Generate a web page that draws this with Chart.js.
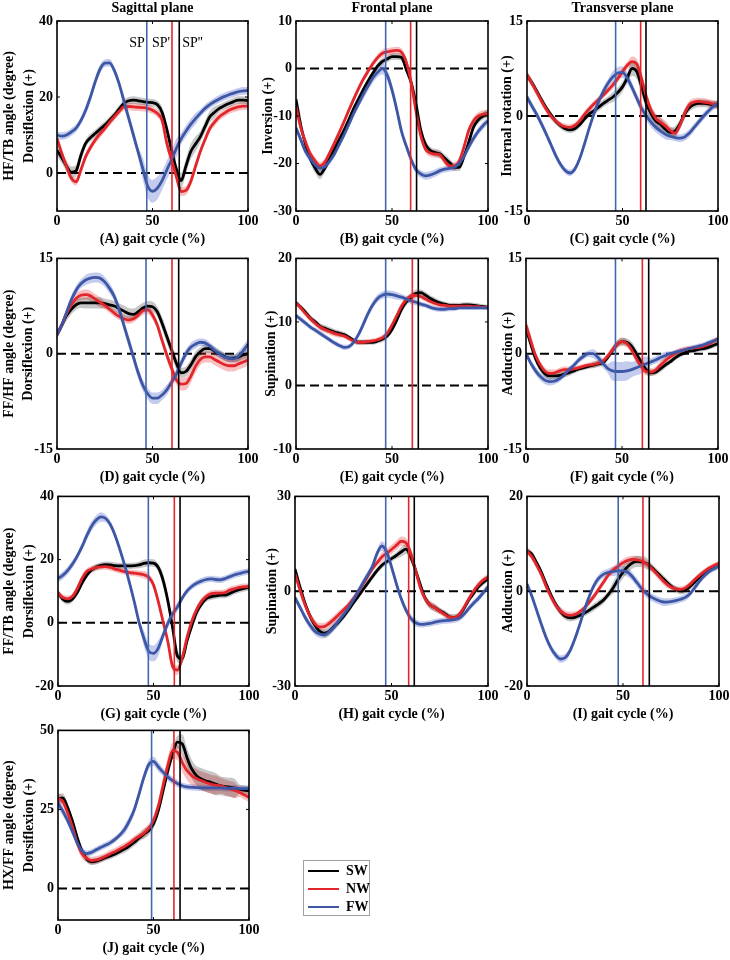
<!DOCTYPE html>
<html><head><meta charset="utf-8">
<script src="https://cdn.jsdelivr.net/npm/chart.js@4.4.0/dist/chart.umd.min.js"></script>
<style>
html,body{margin:0;padding:0;background:#fff;}
body{width:730px;height:960px;position:relative;overflow:hidden;}
canvas{position:absolute;}
#legendBox{position:absolute;left:303px;top:860px;width:65px;height:54px;border:1px solid #a0a0a0;}
</style></head><body>
<div id="legendBox"></div>
<script>
// ---------- categories (gait cycle %) ----------
const GAIT = [0,2.5,5,7.5,10,12.5,15,17.5,20,22.5,25,27.5,30,32.5,35,37.5,40,42.5,45,47.5,50,52.5,55,57.5,60,62.5,65,67.5,70,72.5,75,77.5,80,82.5,85,87.5,90,92.5,95,97.5,100];
const X_TICKS = [0,50,100];
const SERIES = ['SW','NW','FW'];
const SP_TEXT = ['SP', "SP'", "SP''"];

// ---------- (A) HF/TB sagittal ----------
const A_SW = [6,4,1.8,0.2,0.6,4.6,7.8,9.3,10.4,11.5,12.6,13.9,15.2,16.8,18.3,19,19.2,19,18.8,18.6,18.5,18,16,11.5,6,1,-2,1.8,5.6,7.6,9.5,12.2,14.8,16,17,17.7,18.3,18.8,19.2,19.2,19];
const A_NW = [9.1,5.2,1.7,-1.4,-2.3,0.8,4.3,6.7,8.7,10.3,11.7,13.3,14.8,16.2,17.4,17.5,17.4,17.3,17.2,17,16.5,15.7,13.9,7.8,3.4,-1,-4.9,-4.6,-2.3,1.7,5.6,8.8,11.7,13.4,14.8,15.7,16.5,17,17.4,17.6,17.6];
const A_FW = [10,9.7,10,10.8,11.8,13.8,16.5,20,24,27.3,28.9,29,27,23.5,19,14.5,10,5.5,1,-3.5,-4.8,-4,-2,0.8,3.5,6.5,9,11,12.8,14.3,15.7,17,18,18.8,19.5,20.1,20.6,21,21.4,21.6,21.7];
const A_SW_SD = [1.5,1.5,1,1,1,1,1.5,2,1.5,1,1];
const A_NW_SD = [1,1,1,1,1,1,1.2,1.2,1,1,1];
const A_FW_SD = [1,1,1.2,1,1.5,3,2.5,1.5,1,1,1];
const A_RANGE = [-10,40];
const A_YTICKS = [0,20,40];
const A_SP = [47,60.2,64];

// ---------- (B) HF/TB frontal ----------
const B_SW = [-6.5,-12,-16,-19,-21,-22.3,-21,-19,-17,-15,-13,-10.8,-8.5,-6.5,-4.5,-2.7,-1,0.5,1.5,2,2.5,2.5,2.3,-0.3,-3,-7.5,-13,-16,-17.3,-17.7,-18,-18.9,-19.8,-20.8,-20.8,-18.5,-15.5,-12.3,-10.8,-10,-9.4];
const B_NW = [-8,-12.5,-15.5,-18,-19.5,-20.5,-19.7,-17.8,-15.7,-13.5,-11.2,-8.8,-6.5,-4.3,-2.3,-0.6,1,2.3,3.2,3.5,3.7,3.8,3.4,1.3,-3,-9,-14.2,-17,-17.8,-18,-18.2,-19.5,-20.5,-20.5,-19.5,-16.5,-13,-11,-10,-9.6,-9.5];
const B_FW = [-12.5,-15,-17.5,-19,-20.3,-21,-20.7,-19.5,-18,-16,-14,-11.8,-9.5,-7.5,-5.5,-3.7,-2,-0.8,0,-1.4,-4.5,-8.7,-13.3,-16.4,-19.2,-21.3,-22.2,-22.6,-22.4,-22,-21.5,-21.2,-21,-20.8,-20,-18.5,-16.5,-14.7,-13.2,-12,-11];
const B_SW_SD = [0.8,1,0.8,0.8,0.7,0.7,0.7,0.8,0.8,0.8,0.8];
const B_NW_SD = [0.8,0.8,0.7,0.7,0.7,0.8,0.8,0.8,0.8,0.8,0.8];
const B_FW_SD = [0.8,0.8,0.7,0.7,1,1.2,0.8,0.8,0.7,0.8,0.8];
const B_RANGE = [-30,10];
const B_YTICKS = [-30,-20,-10,0,10];
const B_SP = [46.7,59.7,62.8];

// ---------- (C) HF/TB transverse ----------
const C_SW = [6.4,5.3,4,2.6,1.3,0.2,-0.8,-1.5,-2,-2.2,-2,-1.4,-0.5,0.3,0.8,1.4,2,2.5,3,3.7,4.6,6,7.5,7,4.6,2,0.3,-0.8,-1.3,-2.1,-2.6,-2.4,-1.3,0.3,1.3,1.8,2,2,1.9,1.8,1.7];
const C_NW = [6.5,5.2,3.8,2.4,1.1,0,-0.8,-1.4,-1.7,-1.8,-1.5,-0.8,0.2,1.1,1.9,2.6,3.3,4.1,4.9,5.9,7,8,8.6,8.2,5.9,3,0.9,-0.4,-1,-1.6,-2.3,-2.7,-1.5,0.4,1.8,2.2,2.3,2.2,2.1,1.9,1.8];
const C_FW = [3,1.6,0.3,-1.2,-2.8,-4.5,-6.2,-7.6,-8.6,-9,-8.4,-6.8,-4.5,-2,0.3,2.3,3.9,5.2,6.2,6.8,6.9,6,4.5,2.8,1.2,0,-1,-1.8,-2.4,-2.9,-3.2,-3.4,-3.5,-3.3,-2.7,-1.8,-0.9,0,0.8,1.5,2];
const C_SW_SD = [0.6,0.5,0.5,0.5,0.6,0.8,1.2,1,0.8,0.6,0.6];
const C_NW_SD = [0.6,0.6,0.5,0.5,0.5,0.6,0.8,0.8,0.7,0.6,0.6];
const C_FW_SD = [0.6,0.6,0.5,0.5,0.7,0.9,0.8,0.8,0.6,0.6,0.6];
const C_RANGE = [-15,15];
const C_YTICKS = [-15,0,15];
const C_SP = [46.4,59.5,62.3];

// ---------- (D) FF/HF sagittal ----------
const D_SW = [3,4.5,6,7,7.7,8,8,8,8,8,7.9,7.7,7.5,7.1,6.7,6.3,6.2,6.6,7.2,7.5,7.4,6.6,4.8,2.7,0.6,-1.5,-3,-2.8,-1.8,-0.5,0.3,0.8,0.8,0.4,0,-0.4,-0.7,-0.7,-0.5,-0.2,0];
const D_NW = [3,4.5,6.3,7.7,8.7,9.2,9.3,9.1,8.6,8.1,7.6,7,6.4,5.9,5.5,5.3,5.5,6.1,6.8,6.9,6.1,4.5,2.1,-0.2,-2.3,-4.1,-4.8,-4.7,-3.6,-2,-0.9,-0.5,-0.5,-0.9,-1.3,-1.7,-1.9,-1.9,-1.6,-1.3,-1];
const D_FW = [3,4.5,6.5,8.5,10,11,11.6,11.9,12,11.9,11.3,10.3,9,7,4.5,2,-0.5,-3,-5,-6.3,-7,-7,-6.5,-5.7,-4.5,-3.2,-1.5,0,1,1.5,1.8,1.7,1.2,0.5,0,-0.5,-0.7,-0.8,-0.4,0.5,1.5];
const D_SW_SD = [0.6,0.8,0.9,0.8,0.9,0.8,1,0.8,0.7,0.6,0.7];
const D_NW_SD = [0.6,0.8,0.8,0.6,0.6,0.7,0.8,1,0.9,0.9,0.9];
const D_FW_SD = [0.6,0.7,0.8,0.8,0.9,0.9,0.8,0.7,0.6,0.6,0.8];
const D_RANGE = [-15,15];
const D_YTICKS = [-15,0,15];
const D_SP = [46.6,60.2,63.7];

// ---------- (E) FF/HF frontal ----------
const E_SW = [13,12.3,11.5,10.6,10,9.3,9,8.7,8.4,8.2,8,7.6,7.1,6.8,6.8,6.8,6.8,7,7.3,7.8,8.8,10.3,12,13.2,13.9,14.5,14.6,14.2,13.7,13.3,13,12.8,12.6,12.6,12.6,12.7,12.7,12.6,12.5,12.4,12.3];
const E_NW = [13,12.2,11.3,10.5,9.8,9.2,8.8,8.5,8.2,8,7.8,7.4,7,6.8,6.8,6.9,7,7.2,7.5,8.2,9.5,11,12.5,13.5,14.1,14.2,14,13.6,13.2,12.9,12.7,12.6,12.5,12.5,12.5,12.5,12.5,12.4,12.4,12.3,12.3];
const E_FW = [11,10.4,9.8,9.2,8.7,8.2,7.7,7.2,6.7,6.3,6,6.1,6.8,8,9.6,11.3,12.7,13.7,14.2,14.4,14.3,14.1,13.9,13.6,13.3,13.1,12.8,12.6,12.3,12.1,12,12,12.1,12.1,12.2,12.2,12.2,12.2,12.2,12.2,12.2];
const E_SW_SD = [0.4,0.5,0.5,0.4,0.4,0.5,0.6,0.5,0.4,0.4,0.4];
const E_NW_SD = [0.4,0.5,0.5,0.4,0.4,0.5,0.5,0.4,0.4,0.3,0.3];
const E_FW_SD = [0.4,0.4,0.4,0.4,0.6,0.6,0.5,0.4,0.4,0.3,0.3];
const E_RANGE = [-10,20];
const E_YTICKS = [-10,0,10,20];
const E_SP = [46.7,60.6,63.7];

// ---------- (F) FF/HF transverse ----------
const F_SW = [4,1.5,-0.8,-2.3,-3.2,-3.5,-3.5,-3.4,-3.2,-3,-2.7,-2.4,-2.2,-2,-1.8,-1.6,-1.4,-0.6,0.5,1.5,1.9,1.8,1.2,0,-1.3,-2.5,-3,-2.9,-2.4,-1.8,-1.3,-0.7,-0.2,0.1,0.4,0.5,0.7,0.8,1,1.3,1.6];
const F_NW = [4.5,2,-0.3,-1.8,-2.8,-3.1,-3,-2.7,-2.5,-2.5,-2.4,-2.2,-2,-1.8,-1.7,-1.5,-1.2,-0.4,0.6,1.5,1.9,1.6,0.6,-0.8,-2,-2.8,-2.9,-2.6,-1.8,-1.1,-0.5,0,0.4,0.6,0.8,0.9,1,1.2,1.5,1.9,2.3];
const F_FW = [0,-1.5,-2.7,-3.6,-4.2,-4.4,-4.3,-3.9,-3.3,-2.5,-1.8,-1,-0.4,0,0,-0.6,-1.5,-2.3,-2.7,-2.8,-2.8,-2.7,-2.5,-2.2,-1.9,-1.6,-1.3,-1,-0.6,-0.3,0,0.2,0.4,0.6,0.8,1,1.2,1.4,1.7,2,2.3];
const F_SW_SD = [0.7,0.6,0.5,0.4,0.5,0.6,0.7,0.5,0.4,0.4,0.4];
const F_NW_SD = [1,0.6,0.5,0.4,0.5,0.6,0.6,0.6,0.5,0.4,0.4];
const F_FW_SD = [0.5,0.6,0.5,0.5,0.7,1.5,1.2,0.6,0.4,0.4,0.4];
const F_RANGE = [-15,15];
const F_YTICKS = [-15,0,15];
const F_SP = [46.6,60.6,63.9];

// ---------- (G) FF/TB sagittal ----------
const G_SW = [9.5,7.5,6.8,7.5,9.5,12.5,15,16.7,17.6,18.2,18.4,18.3,18.1,18,18,18,18.1,18.3,18.8,19,18.9,17.5,13.5,7,-1.5,-10.5,-11.5,-5.8,-1,3.2,5.8,7.6,8.2,8.5,8.8,8.8,9.3,10,10.5,10.9,11.2];
const G_NW = [9.4,8,7.6,8.3,10.7,14,16.2,17,17.5,17.7,17.8,17.5,17,16.6,16.2,15.9,15.7,15.5,15.2,14.4,12,6.7,0.4,-5.9,-13.8,-15,-11.2,-4.8,0.4,4.1,6.7,8.3,9.2,9.4,9.4,9.6,10.4,10.8,11.2,11.4,11.5];
const G_FW = [14,15,16.5,18.5,21,24,27.5,30.5,32.5,33.5,33,31,27.5,23,18,12.5,6.5,0,-5,-9,-9.7,-8,-4,-0.2,2.8,5,7.8,10,11.5,12.5,13.2,13.7,13.9,13.7,13.6,14,14.6,15.2,15.6,16,16.3];
const G_SW_SD = [1,1,1,1,1,1.2,2,1.5,1,1,1];
const G_NW_SD = [1,1,1,1,1,1.2,1.5,1.2,1,1,1];
const G_FW_SD = [1.2,1.2,1.5,1.2,1,2.5,1.5,1,1,1,1];
const G_RANGE = [-20,40];
const G_YTICKS = [-20,0,20,40];
const G_SP = [47.3,60.9,63.9];

// ---------- (H) FF/TB frontal ----------
const H_SW = [7,1.5,-3.5,-7.5,-10.5,-12.5,-13.3,-12.8,-11.3,-9.8,-8.1,-6.1,-3.9,-1.8,0.3,2.4,4.5,6.5,8.2,9.3,10.3,11.3,12.4,13.3,10.8,6.6,1.9,-2.3,-4.4,-5.2,-6.2,-7,-8.1,-8.3,-7.6,-5.5,-2.8,-0.7,1.4,2.8,4];
const H_NW = [5.5,0.5,-4,-7.5,-10,-11.3,-11.2,-10.3,-9,-7.5,-6,-4.5,-2.5,-0.5,2,4.5,7,9,10.8,12,13.2,14.5,15.8,15.3,12,6.5,1,-2.5,-4.3,-5.3,-6.3,-7.3,-8.2,-8.4,-7.5,-5.2,-2.5,0,2,3.5,4.5];
const H_FW = [-2,-5,-8,-10.5,-12.5,-13.5,-13.8,-13,-11.5,-9.5,-7.5,-5.5,-3,-0.3,2.4,5,7.7,11.9,14.3,12.4,7.7,2.4,-2.3,-6,-8.6,-10,-10.5,-10.4,-10.2,-9.8,-9.5,-9.3,-9.2,-9,-8.6,-7.3,-5.5,-3.8,-2.3,-0.5,1.4];
const H_SW_SD = [1,1.2,1.2,1,1,1,1.5,1.2,1,1,1];
const H_NW_SD = [1,1.2,1.2,1,1,1.5,1.5,1.2,1,1,1];
const H_FW_SD = [1,1.2,1.2,1,1.2,1.5,1.2,1,1,1,1];
const H_RANGE = [-30,30];
const H_YTICKS = [-30,0,30];
const H_SP = [47,58.9,61.8];

// ---------- (I) FF/TB transverse ----------
const I_SW = [8.5,7.8,6,4,1.5,-0.8,-2.8,-4.3,-5.3,-5.6,-5.5,-5.1,-4.6,-4,-3.3,-2.6,-1.8,-0.6,0.8,2.5,4,5.2,6,6.3,6.2,5.8,5,4,3,2,1.1,0.4,0,0.2,1,2,3,3.8,4.5,5,5.5];
const I_NW = [8.5,7.3,5.5,3.5,1,-1.2,-3,-4.2,-4.9,-5.1,-4.9,-4.3,-3.5,-2.3,-1,0.5,2,3.5,4.5,5.3,6,6.5,6.7,6.6,6.3,5.7,4.8,3.7,2.6,1.6,0.9,0.5,0.4,0.7,1.5,2.5,3.4,4.2,4.9,5.4,5.9];
const I_FW = [1.5,-1,-4,-7,-9.8,-12,-13.5,-14.3,-14,-12.5,-10,-7,-3.8,-1,1.3,2.8,3.6,4,4.2,4.3,4.3,4,3,1.7,0.4,-0.6,-1.3,-1.8,-2.2,-2.3,-2.2,-2,-1.7,-1.3,-0.5,0.8,2.2,3.3,4.2,4.8,5.3];
const I_SW_SD = [0.7,0.7,0.8,0.7,0.8,1.3,1.2,0.8,0.7,0.7,0.7];
const I_NW_SD = [0.7,0.8,0.8,0.6,0.7,0.8,0.8,0.8,0.6,0.6,0.6];
const I_FW_SD = [0.7,0.8,0.8,0.7,0.8,1,0.9,0.8,0.7,0.6,0.6];
const I_RANGE = [-20,20];
const I_YTICKS = [-20,0,20];
const I_SP = [47.5,60.4,63.7];

// ---------- (J) HX/FF sagittal ----------
const J_SW = [28.3,28.6,25.7,21.4,16.2,11.9,9.3,8.4,8.6,9.2,9.8,10.3,10.9,11.7,12.5,13.5,14.6,16,17.2,18.3,20.4,24.6,30.9,37.3,42.6,46.3,45.8,41.5,37.8,35.7,34.6,34,33.6,33,32.5,32.2,32,31.7,31.4,31.1,30.9];
const J_NW = [28.5,27.5,24,19.5,14.5,11,9.5,8.8,9,9.5,10.2,11,11.7,12.5,13.3,14.3,15.5,16.5,17.5,19,21.5,26,32.5,38.9,43.6,43.1,39.9,37.3,35.7,34.8,34.1,33.5,33,32.7,32.5,32,31.5,31,30.4,29.6,28.8];
const J_FW = [27,24.5,21.5,18,14.5,12,11,11.4,12.2,13,13.7,14.5,15.6,17,18.8,21.5,25,30,35.2,39.2,40.2,38.5,36.8,35.3,34.1,33.2,32.5,32.1,32,31.9,31.8,31.8,31.8,31.8,31.8,31.7,31.7,31.7,31.6,31.6,31.6];
const J_SW_SD = [1.5,1.2,1,1,1.2,1.5,2,3,3.5,3,1.5];
const J_NW_SD = [1.5,1.5,1.2,1.2,1.2,1.5,2.5,3,3,2.5,1.5];
const J_FW_SD = [1.5,1.2,1,1,1.5,1.5,1.2,1,1,1,1];
const J_RANGE = [-10,50];
const J_YTICKS = [0,25,50];
const J_SP = [49,60.7,63.9];

// ---------- styles ----------
const FONT_FAMILY = '"Liberation Serif", "Times New Roman", serif';
const LINE_COLORS = ['#000000', '#e3262c', '#3d56a6'];
const BAND_COLORS = ['rgba(0,0,0,0.22)', 'rgba(232,60,60,0.32)', 'rgba(70,95,200,0.32)'];
const SP_COLORS = ['#4466b0', '#e3262c', '#000000'];

const PANELS = [
  {mean:[A_SW,A_NW,A_FW], sd:[A_SW_SD,A_NW_SD,A_FW_SD], range:A_RANGE, yTicks:A_YTICKS, sp:A_SP,
   yTitle:['HF/TB angle (degree)','Dorsiflexion (+)'], xTitle:'(A) gait cycle (%)', colTitle:'Sagittal plane',
   box:[57,21,248,211], canvasLeft:0, yTitleX:9.75, spLabels:true},
  {mean:[B_SW,B_NW,B_FW], sd:[B_SW_SD,B_NW_SD,B_FW_SD], range:B_RANGE, yTicks:B_YTICKS, sp:B_SP,
   yTitle:'Inversion (+)', xTitle:'(B) gait cycle (%)', colTitle:'Frontal plane',
   box:[296,21,488,211], canvasLeft:246, yTitleX:268},
  {mean:[C_SW,C_NW,C_FW], sd:[C_SW_SD,C_NW_SD,C_FW_SD], range:C_RANGE, yTicks:C_YTICKS, sp:C_SP,
   yTitle:'Internal rotation (+)', xTitle:'(C) gait cycle (%)', colTitle:'Transverse plane',
   box:[527,21,718,211], canvasLeft:477, yTitleX:507},
  {mean:[D_SW,D_NW,D_FW], sd:[D_SW_SD,D_NW_SD,D_FW_SD], range:D_RANGE, yTicks:D_YTICKS, sp:D_SP,
   yTitle:['FF/HF angle (degree)','Dorsiflexion (+)'], xTitle:'(D) gait cycle (%)',
   box:[57,258,248,449], canvasLeft:0, yTitleX:9.25},
  {mean:[E_SW,E_NW,E_FW], sd:[E_SW_SD,E_NW_SD,E_FW_SD], range:E_RANGE, yTicks:E_YTICKS, sp:E_SP,
   yTitle:'Supination (+)', xTitle:'(E) gait cycle (%)',
   box:[296,258,488,449], canvasLeft:246, yTitleX:271},
  {mean:[F_SW,F_NW,F_FW], sd:[F_SW_SD,F_NW_SD,F_FW_SD], range:F_RANGE, yTicks:F_YTICKS, sp:F_SP,
   yTitle:'Adduction (+)', xTitle:'(F) gait cycle (%)',
   box:[526,258,718,449], canvasLeft:476, yTitleX:508},
  {mean:[G_SW,G_NW,G_FW], sd:[G_SW_SD,G_NW_SD,G_FW_SD], range:G_RANGE, yTicks:G_YTICKS, sp:G_SP,
   yTitle:['FF/TB angle (degree)','Dorsiflexion (+)'], xTitle:'(G) gait cycle (%)',
   box:[58,496,249,686], canvasLeft:0, yTitleX:9.75},
  {mean:[H_SW,H_NW,H_FW], sd:[H_SW_SD,H_NW_SD,H_FW_SD], range:H_RANGE, yTicks:H_YTICKS, sp:H_SP,
   yTitle:'Supination (+)', xTitle:'(H) gait cycle (%)',
   box:[295,496,488,686], canvasLeft:245, yTitleX:272},
  {mean:[I_SW,I_NW,I_FW], sd:[I_SW_SD,I_NW_SD,I_FW_SD], range:I_RANGE, yTicks:I_YTICKS, sp:I_SP,
   yTitle:'Adduction (+)', xTitle:'(I) gait cycle (%)',
   box:[527,496,719,686], canvasLeft:477, yTitleX:508},
  {mean:[J_SW,J_NW,J_FW], sd:[J_SW_SD,J_NW_SD,J_FW_SD], range:J_RANGE, yTicks:J_YTICKS, sp:J_SP,
   yTitle:['HX/FF angle (degree)','Dorsiflexion (+)'], xTitle:'(J) gait cycle (%)',
   box:[58,730,249,920], canvasLeft:0, yTitleX:9.75}
];

const decor = {
  id: 'decor',
  beforeDatasetsDraw(chart) {
    const {ctx, chartArea: a, scales: {y}} = chart;
    const y0 = y.getPixelForValue(0);
    ctx.save();
    ctx.setLineDash([9, 5]);
    ctx.lineWidth = 2;
    ctx.strokeStyle = '#000';
    ctx.beginPath(); ctx.moveTo(a.left, y0); ctx.lineTo(a.right, y0); ctx.stroke();
    ctx.restore();
  },
  afterDatasetsDraw(chart, args, opts) {
    const {ctx, chartArea: a, scales: {x, y}} = chart;
    ctx.save();
    const px = opts.sp.map(v => x.getPixelForValue(v));
    px.forEach((p, i) => {
      ctx.strokeStyle = SP_COLORS[i]; ctx.lineWidth = 1.6;
      ctx.beginPath(); ctx.moveTo(p, a.top); ctx.lineTo(p, a.bottom); ctx.stroke();
    });
    if (opts.spLabels) {
      ctx.fillStyle = '#000';
      ctx.font = '14px ' + FONT_FAMILY;
      ctx.textBaseline = 'middle';
      const ty = a.top + 22;
      ctx.textAlign = 'right'; ctx.fillText(SP_TEXT[0], px[0] - 2, ty);
      ctx.textAlign = 'right'; ctx.fillText(SP_TEXT[1], px[1] - 2, ty);
      ctx.textAlign = 'left'; ctx.fillText(SP_TEXT[2], px[2] + 3, ty);
    }
    ctx.strokeStyle = '#000'; ctx.lineWidth = 1;
    X_TICKS.forEach(v => {
      const p = x.getPixelForValue(v);
      ctx.beginPath();
      ctx.moveTo(p, a.bottom); ctx.lineTo(p, a.bottom - 3);
      ctx.moveTo(p, a.top); ctx.lineTo(p, a.top + 3);
      ctx.stroke();
    });
    opts.yTicks.forEach(v => {
      const p = y.getPixelForValue(v);
      ctx.beginPath();
      ctx.moveTo(a.left, p); ctx.lineTo(a.left + 3, p);
      ctx.moveTo(a.right, p); ctx.lineTo(a.right - 3, p);
      ctx.stroke();
    });
    ctx.lineWidth = 1.6;
    ctx.strokeRect(a.left, a.top, a.right - a.left, a.bottom - a.top);
    ctx.restore();
  }
};

const TICK_FONT = {family: FONT_FAMILY, size: 14, weight: 'bold'};

function buildPanel(p) {
  const [L, T, R, B] = p.box;
  const top = p.colTitle ? 0 : T - 12;
  const XH = 38, RP = 18, YLH = 19.5;
  const YW = L - p.canvasLeft;
  const W = R - p.canvasLeft + RP;
  const H = B + XH - top;
  const cv = document.createElement('canvas');
  cv.width = W; cv.height = H;
  cv.style.left = p.canvasLeft + 'px'; cv.style.top = top + 'px';
  cv.style.width = W + 'px'; cv.style.height = H + 'px';
  document.body.appendChild(cv);

  const datasets = [];
  SERIES.forEach((s, i) => {
    const m = p.mean[i], sd = p.sd[i];
    datasets.push({label: s + ' upper', data: GAIT.map((g, k) => ({x: g, y: m[k] + sd[Math.round(k / 4)]})),
      borderWidth: 1, borderColor: 'rgba(0,0,0,0)', pointRadius: 0, fill: false, order: 10, cubicInterpolationMode: 'monotone'});
    datasets.push({label: s + ' lower', data: GAIT.map((g, k) => ({x: g, y: m[k] - sd[Math.round(k / 4)]})),
      borderWidth: 1, borderColor: 'rgba(0,0,0,0)', backgroundColor: BAND_COLORS[i], pointRadius: 0, fill: '-1', order: 10, cubicInterpolationMode: 'monotone'});
  });
  SERIES.forEach((s, i) => {
    datasets.push({label: s, data: GAIT.map((g, k) => ({x: g, y: p.mean[i][k]})),
      borderColor: LINE_COLORS[i], borderWidth: 2.8, pointRadius: 0, fill: false, order: 3 - i, cubicInterpolationMode: 'monotone'});
  });

  new Chart(cv, {
    type: 'line',
    data: {datasets},
    plugins: [decor],
    options: {
      responsive: false, animation: false, devicePixelRatio: 1,
      layout: {padding: {left: 0, right: RP, top: p.colTitle ? 0 : 12, bottom: 0}},
      plugins: {
        legend: {display: false}, tooltip: {enabled: false},
        title: {display: !!p.colTitle, text: p.colTitle || '', fullSize: false, color: '#000',
          font: {family: FONT_FAMILY, size: 14, weight: 'bold', lineHeight: 1.2}, padding: {top: 0, bottom: 4.2}},
        decor: {sp: p.sp, spLabels: !!p.spLabels, yTicks: p.yTicks}
      },
      scales: {
        x: {type: 'linear', min: 0, max: 100,
          afterBuildTicks: s => { s.ticks = X_TICKS.map(v => ({value: v})); },
          afterFit: s => { s.height = XH; },
          grid: {display: false, drawTicks: false}, border: {display: false},
          ticks: {padding: 2, font: TICK_FONT, color: '#000', maxRotation: 0, autoSkip: false},
          title: {display: true, text: p.xTitle, color: '#000', font: {family: FONT_FAMILY, size: 14, weight: 'bold', lineHeight: 1.2}, padding: {top: 0, bottom: 1.6}}},
        y: {type: 'linear', min: p.range[0], max: p.range[1],
          afterBuildTicks: s => { s.ticks = p.yTicks.map(v => ({value: v})); },
          afterFit: s => { s.width = YW; },
          grid: {display: false, drawTicks: false}, border: {display: false},
          ticks: {padding: 4, font: TICK_FONT, color: '#000', autoSkip: false},
          title: {display: true, text: p.yTitle, color: '#000', font: {family: FONT_FAMILY, size: 14, weight: 'bold', lineHeight: YLH / 14},
            padding: {top: p.yTitleX - p.canvasLeft - YLH / 2, bottom: 0}}}
      }
    }
  });
}

PANELS.forEach(buildPanel);

// ---------- legend (a Chart.js legend, no plot) ----------
const lc = document.createElement('canvas');
lc.width = 66; lc.height = 64;
lc.style.left = '304px'; lc.style.top = '860px';
lc.style.width = '66px'; lc.style.height = '64px';
document.body.appendChild(lc);
new Chart(lc, {
  type: 'line',
  data: {datasets: SERIES.map((s, i) => ({label: s, data: [], borderColor: LINE_COLORS[i], backgroundColor: LINE_COLORS[i], borderWidth: 2}))},
  options: {
    responsive: false, animation: false, devicePixelRatio: 1,
    layout: {padding: 0},
    scales: {x: {display: false}, y: {display: false}},
    plugins: {
      tooltip: {enabled: false},
      legend: {position: 'left', align: 'start', maxWidth: 66, maxHeight: 64,
        labels: {usePointStyle: true, pointStyle: 'line', pointStyleWidth: 31, color: '#000', padding: 4,
          font: {family: FONT_FAMILY, size: 14, weight: 'bold'}}}
    }
  }
});
</script>
</body></html>
